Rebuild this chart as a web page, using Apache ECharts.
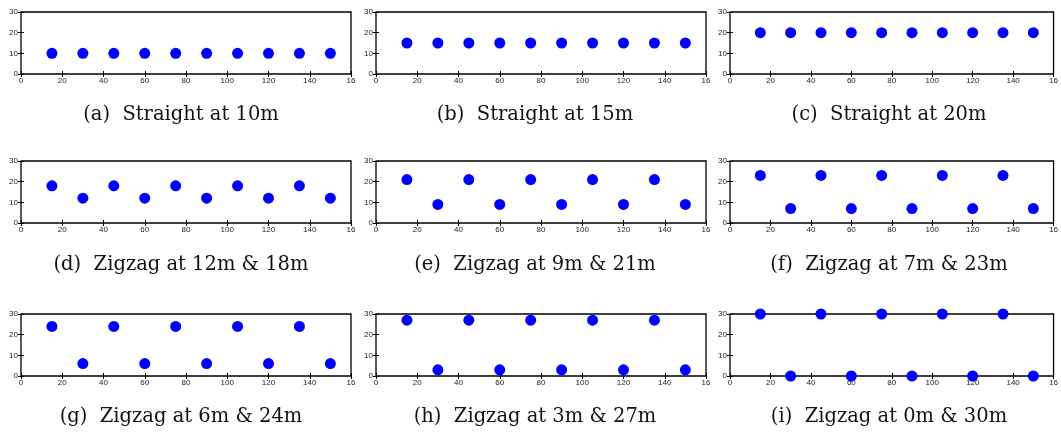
<!DOCTYPE html>
<html>
<head>
<meta charset="utf-8">
<script src="https://cdn.jsdelivr.net/npm/echarts@6/dist/echarts.min.js"></script>
<style>
  html, body { margin: 0; padding: 0; background: #fff; }
  #chart { width: 1061px; height: 432px; }
</style>
</head>
<body>
<div id="chart"></div>
<script>
// Sensor positions along the track (m) and lateral offsets for each layout
const positions = [15, 30, 45, 60, 75, 90, 105, 120, 135, 150];

const straight10 = [10, 10, 10, 10, 10, 10, 10, 10, 10, 10];
const straight15 = [15, 15, 15, 15, 15, 15, 15, 15, 15, 15];
const straight20 = [20, 20, 20, 20, 20, 20, 20, 20, 20, 20];
const zigzag12_18 = [18, 12, 18, 12, 18, 12, 18, 12, 18, 12];
const zigzag9_21 = [21, 9, 21, 9, 21, 9, 21, 9, 21, 9];
const zigzag7_23 = [23, 7, 23, 7, 23, 7, 23, 7, 23, 7];
const zigzag6_24 = [24, 6, 24, 6, 24, 6, 24, 6, 24, 6];
const zigzag3_27 = [27, 3, 27, 3, 27, 3, 27, 3, 27, 3];
const zigzag0_30 = [30, 0, 30, 0, 30, 0, 30, 0, 30, 0];

const captions = [
  '(a)  Straight at 10m', '(b)  Straight at 15m', '(c)  Straight at 20m',
  '(d)  Zigzag at 12m & 18m', '(e)  Zigzag at 9m & 21m', '(f)  Zigzag at 7m & 23m',
  '(g)  Zigzag at 6m & 24m', '(h)  Zigzag at 3m & 27m', '(i)  Zigzag at 0m & 30m'
];
const layouts = [straight10, straight15, straight20, zigzag12_18, zigzag9_21,
  zigzag7_23, zigzag6_24, zigzag3_27, zigzag0_30];

// x tick labels as printed (the last one is cut off at the panel edge)
const xTickText = { 0: '0', 20: '20', 40: '40', 60: '60', 80: '80', 100: '100', 120: '120', 140: '140', 160: '16' };

// panel geometry
const colLeft = [21, 376, 730];
const colWidth = 330;
const rowTop = [12, 161, 314];
const rowHeight = 62;
const captionX = [181, 535, 889];
const captionY = [115, 265, 417];

const chart = echarts.init(document.getElementById('chart'), null, { renderer: 'canvas' });

const grid = [], xAxis = [], yAxis = [], series = [], graphic = [];
const tickFont = { fontFamily: 'Liberation Sans, Arial, sans-serif', fontSize: 8, color: '#222' };

layouts.forEach((ys, i) => {
  const r = Math.floor(i / 3), c = i % 3;
  grid.push({
    left: colLeft[c], top: rowTop[r], width: colWidth, height: rowHeight,
    show: true, borderColor: '#000', borderWidth: 1.3, backgroundColor: '#fff'
  });
  const xa = {
    type: 'value', gridIndex: i, min: 0, max: 160, interval: 20,
    axisLine: { show: false },
    axisTick: { show: true, inside: true, length: 3, lineStyle: { color: '#000' } },
    splitLine: { show: false }
  };
  xAxis.push(Object.assign({}, xa, {
    position: 'bottom',
    axisLabel: Object.assign({ margin: 3, formatter: v => xTickText[v] }, tickFont)
  }));
  xAxis.push(Object.assign({}, xa, { position: 'top', axisLabel: { show: false } }));
  const ya = {
    type: 'value', gridIndex: i, min: 0, max: 30, interval: 10,
    axisLine: { show: false },
    axisTick: { show: true, inside: true, length: 3, lineStyle: { color: '#000' } },
    splitLine: { show: false }
  };
  yAxis.push(Object.assign({}, ya, {
    position: 'left',
    axisLabel: Object.assign({ margin: 3 }, tickFont)
  }));
  yAxis.push(Object.assign({}, ya, { position: 'right', axisLabel: { show: false } }));

  series.push({
    type: 'scatter',
    xAxisIndex: i * 2, yAxisIndex: i * 2,
    data: positions.map((x, k) => [x, ys[k]]),
    symbol: 'circle', symbolSize: 11,
    itemStyle: { color: '#0000ff', opacity: 1 },
    clip: false,
    z: 5
  });

  graphic.push({
    type: 'text', x: captionX[c], y: captionY[r],
    style: {
      text: captions[i],
      font: '19.5px "DejaVu Serif", "Liberation Serif", serif',
      fill: '#111', textAlign: 'center', textVerticalAlign: 'middle'
    }
  });
});

chart.setOption({
  animation: false,
  backgroundColor: '#fff',
  grid, xAxis, yAxis, series, graphic
});
</script>
</body>
</html>
